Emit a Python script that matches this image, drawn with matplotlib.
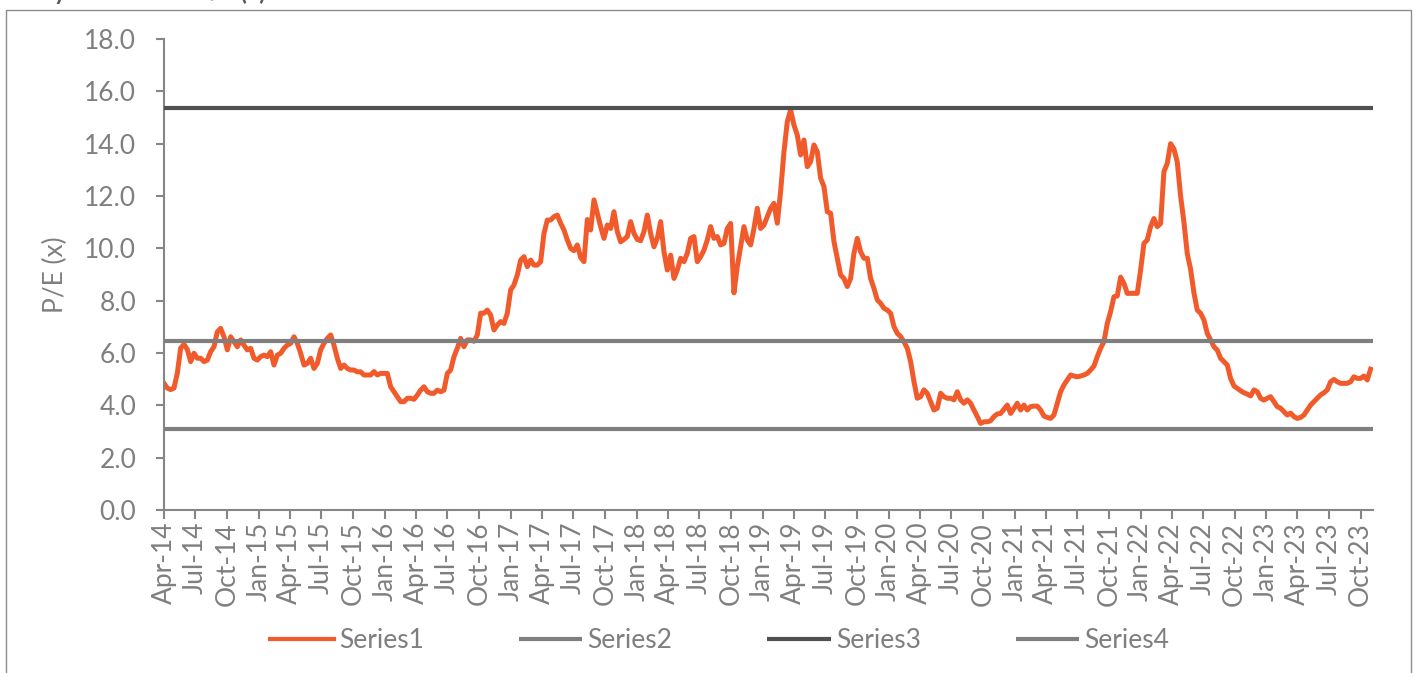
import matplotlib
matplotlib.use("Agg")
import matplotlib.pyplot as plt
import matplotlib.dates as mdates
from matplotlib.patches import Rectangle
import pandas as pd

plt.rcParams['font.family'] = ['Lato', 'DejaVu Sans']

# P/E series, sampled roughly every ten days from Apr-2014 to end-Oct-2023
start_date = "2014-04-01"
end_date = "2023-10-30"
pe_values = [
    4.84, 4.66, 4.60, 4.66, 5.23, 6.19, 6.33, 6.13, 5.67, 5.99,
    5.80, 5.80, 5.67, 5.73, 6.05, 6.24, 6.81, 6.94, 6.62, 6.12,
    6.62, 6.43, 6.24, 6.50, 6.30, 6.12, 6.18, 5.80, 5.73, 5.86,
    5.92, 5.86, 6.05, 5.54, 5.92, 5.99, 6.18, 6.30, 6.37, 6.62,
    6.37, 5.99, 5.54, 5.60, 5.80, 5.41, 5.60, 6.12, 6.37, 6.56,
    6.69, 6.30, 5.80, 5.41, 5.54, 5.41, 5.35, 5.35, 5.28, 5.28,
    5.16, 5.16,
    5.16, 5.29, 5.16, 5.22, 5.22, 5.22, 4.71, 4.52, 4.33, 4.14,
    4.14, 4.27, 4.27, 4.23, 4.39, 4.58, 4.71, 4.52, 4.46, 4.46,
    4.58, 4.52, 4.58, 5.22, 5.35, 5.86, 6.18, 6.56, 6.24, 6.50,
    6.50, 6.45, 6.69, 7.52, 7.52, 7.64, 7.45, 6.88, 7.07, 7.20,
    7.13, 7.52, 8.41, 8.60, 8.98, 9.55, 9.68, 9.30, 9.55, 9.36,
    9.36, 9.49, 10.57, 11.08, 11.08, 11.21, 11.27, 10.96, 10.70, 10.32,
    10.00, 9.91, 10.13, 9.65, 9.49, 11.10, 10.70, 11.85, 11.34, 10.83,
    10.38, 10.89, 10.76, 11.40, 10.64, 10.25, 10.34, 10.45, 11.02, 10.57,
    10.34, 10.29, 10.64, 11.27, 10.57, 10.06, 10.38, 11.02, 9.87, 9.17,
    9.74, 8.85, 9.17, 9.62, 9.49, 9.81, 10.38, 10.45, 9.49, 9.68,
    9.93, 10.32, 10.83, 10.38, 10.45, 10.13, 10.19, 10.76, 10.95, 8.30,
    9.30, 10.06, 10.83, 10.32, 10.13, 10.76, 11.53, 10.76, 10.89, 11.21,
    11.53, 11.72, 10.96, 12.17, 13.69, 14.84, 15.29, 14.71, 14.33, 13.57,
    14.14, 13.12, 13.31, 13.95, 13.69, 12.68, 12.36, 11.40, 11.34, 10.26,
    9.62, 8.98, 8.85, 8.54, 8.85, 9.81, 10.38, 9.87, 9.62, 9.62,
    8.85, 8.47, 8.03, 7.90, 7.71, 7.64, 7.52, 7.01, 6.75, 6.63,
    6.43, 6.18, 5.67, 4.91, 4.27, 4.33, 4.59, 4.46, 4.14, 3.82,
    3.89, 4.46, 4.33, 4.27, 4.27, 4.21, 4.52, 4.21, 4.08, 4.21,
    4.08, 3.82, 3.57, 3.31, 3.37, 3.37, 3.41, 3.57, 3.67, 3.69,
    3.85, 4.01, 3.69, 3.88, 4.08, 3.82, 4.01, 3.82, 3.95, 3.97,
    3.97, 3.82, 3.59, 3.54, 3.50, 3.63, 4.08, 4.52, 4.78, 4.97,
    5.16, 5.12, 5.09, 5.12, 5.16, 5.22, 5.35, 5.50, 5.86, 6.18,
    6.43, 7.13, 7.58, 8.15, 8.18, 8.90, 8.66, 8.28, 8.28, 8.28,
    8.28, 9.17, 10.19, 10.32, 10.83, 11.14, 10.83, 10.95, 12.93, 13.25,
    14.00, 13.80, 13.30, 12.00, 11.00, 9.80, 9.20, 8.30, 7.64, 7.52,
    7.26, 6.75, 6.50, 6.24, 6.11, 5.80, 5.67, 5.54, 5.03, 4.74,
    4.65, 4.56, 4.48, 4.43, 4.36, 4.59, 4.52, 4.27, 4.20, 4.27,
    4.33, 4.14, 3.95, 3.89, 3.76, 3.63, 3.70, 3.57, 3.50, 3.54,
    3.63, 3.82, 4.01, 4.14, 4.27, 4.40, 4.48, 4.59, 4.90, 4.99,
    4.90, 4.84, 4.84, 4.84, 4.90, 5.09, 5.03, 5.03, 5.12, 4.97,
    5.38,
]
dates = pd.date_range(start_date, end_date, periods=len(pe_values))

# Band levels
band_mid = 6.45
band_high = 15.38
band_low = 3.10

series_names = ["Series1", "Series2", "Series3", "Series4"]
colors = ["#F15A2B", "#7F7F7F", "#505050", "#7F7F7F"]
axis_grey = "#868686"
text_grey = "#7F7F7F"

fig = plt.figure(figsize=(14.16, 6.73), dpi=100)
ax = fig.add_axes([164 / 1416, 1 - 510 / 673, (1373 - 164) / 1416, (510 - 39) / 673])

ax.plot(dates, pe_values, color=colors[0], lw=3.6, solid_joinstyle="round",
        label=series_names[0], zorder=2)
for name, level, col in zip(series_names[1:], [band_mid, band_high, band_low], colors[1:]):
    ax.plot([dates[0], pd.Timestamp("2023-11-06")], [level, level], color=col,
            lw=3.0, label=name, zorder=3, solid_capstyle="butt")

ax.set_xlim(pd.Timestamp("2014-04-01"), pd.Timestamp("2023-11-06"))
ax.set_ylim(0, 18)
ax.set_yticks([0, 2, 4, 6, 8, 10, 12, 14, 16, 18])
ax.yaxis.set_major_formatter(matplotlib.ticker.FormatStrFormatter("%.1f"))

ax.xaxis.set_major_locator(mdates.MonthLocator(bymonth=[1, 4, 7, 10]))
ax.xaxis.set_major_formatter(mdates.DateFormatter("%b-%y"))

for side in ["top", "right"]:
    ax.spines[side].set_visible(False)
for side in ["left", "bottom"]:
    ax.spines[side].set_color(axis_grey)
    ax.spines[side].set_linewidth(1.5)

ax.tick_params(axis="y", direction="out", length=6, width=1.5, color=axis_grey,
               labelcolor=text_grey, labelsize=19, pad=14)
ax.tick_params(axis="x", direction="out", length=6.5, width=1.5, color=axis_grey,
               labelcolor=text_grey, labelsize=19, pad=2, labelrotation=90)

ax.set_ylabel("P/E (x)", fontsize=19, color=text_grey)
ax.yaxis.set_label_coords((68 - 164) / (1373 - 164), 0.5)

leg = fig.legend(loc="center", bbox_to_anchor=(720 / 1416, 1 - 641 / 673), ncol=4,
                 frameon=False, fontsize=19, handlelength=2.4, handletextpad=0.2,
                 columnspacing=3.6, labelcolor=text_grey)
for line in leg.get_lines():
    line.set_linewidth(3.0)

# Chart frame
fig.patches.append(Rectangle((6 / 1416, -0.05), (1411 - 6) / 1416, 1.05 - 10.5 / 673,
                             transform=fig.transFigure, fill=False,
                             edgecolor="#8C8C8C", linewidth=1.0))

fig.text(0.0, 1 + 8 / 673, "One-year forward P/E (x) band", fontsize=17,
         fontweight="bold", color="#595959", ha="left", va="center")

fig.savefig("out.png", dpi=100)
